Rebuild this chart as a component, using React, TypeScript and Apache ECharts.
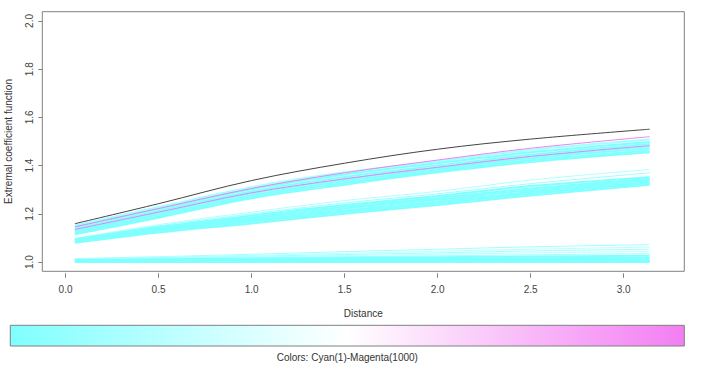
import React, { useEffect, useRef } from "react";
import * as echarts from "echarts";

const distance = [0.05, 0.5, 1.0, 1.5, 2.0, 2.5, 3.14];
const xTicks = [0, 0.5, 1.0, 1.5, 2.0, 2.5, 3.0];
const yTicks = [1.0, 1.2, 1.4, 1.6, 1.8, 2.0];

const blackLine = [1.159, 1.242, 1.338, 1.41, 1.468, 1.51, 1.551];
const magentaLines = [
  [1.146, 1.222, 1.305, 1.37, 1.423, 1.472, 1.52],
  [1.135, 1.207, 1.287, 1.345, 1.393, 1.438, 1.483],
];
const cyanTopBand = [
  [1.152, 1.228, 1.31, 1.372, 1.418, 1.465, 1.508],
  [1.145, 1.22, 1.302, 1.363, 1.41, 1.455, 1.498],
  [1.138, 1.212, 1.293, 1.353, 1.4, 1.445, 1.49],
  [1.132, 1.204, 1.285, 1.344, 1.392, 1.437, 1.48],
  [1.126, 1.197, 1.277, 1.336, 1.385, 1.43, 1.472],
  [1.12, 1.19, 1.27, 1.328, 1.378, 1.422, 1.463],
  [1.115, 1.184, 1.264, 1.321, 1.372, 1.415, 1.455],
];
const cyanMidThin = [
  [1.098, 1.155, 1.207, 1.255, 1.293, 1.34, 1.384],
  [1.095, 1.15, 1.2, 1.245, 1.283, 1.325, 1.37],
];
const cyanMidBand = [
  [1.094, 1.145, 1.193, 1.237, 1.274, 1.315, 1.352],
  [1.091, 1.14, 1.186, 1.229, 1.266, 1.305, 1.345],
  [1.088, 1.135, 1.18, 1.222, 1.259, 1.298, 1.339],
  [1.085, 1.13, 1.173, 1.214, 1.251, 1.29, 1.333],
  [1.083, 1.126, 1.167, 1.207, 1.244, 1.283, 1.327],
  [1.08, 1.122, 1.16, 1.2, 1.237, 1.276, 1.321],
];
const cyanLowBand = [
  [1.014, 1.022, 1.032, 1.043, 1.053, 1.063, 1.072],
  [1.013, 1.02, 1.028, 1.036, 1.045, 1.053, 1.062],
  [1.012, 1.018, 1.024, 1.031, 1.038, 1.046, 1.053],
  [1.011, 1.016, 1.021, 1.027, 1.032, 1.038, 1.044],
  [1.01, 1.014, 1.018, 1.022, 1.026, 1.03, 1.035],
  [1.008, 1.011, 1.014, 1.017, 1.02, 1.023, 1.026],
  [1.006, 1.008, 1.01, 1.012, 1.014, 1.016, 1.018],
  [1.004, 1.005, 1.006, 1.007, 1.008, 1.009, 1.01],
  [1.002, 1.002, 1.003, 1.003, 1.004, 1.004, 1.005],
  [1.0, 1.0, 1.0, 1.0, 1.0, 1.0, 1.0],
];

const FONT = "'Liberation Sans', Arial, sans-serif";

function mk(vals: number[], color: string, width: number, z: number) {
  return {
    type: "line",
    data: distance.map((d, i) => [d, vals[i]]),
    smooth: 0.35,
    showSymbol: false,
    symbol: "none",
    lineStyle: { color, width },
    z,
    silent: true,
  };
}

export default function App() {
  const ref = useRef<HTMLDivElement>(null);
  useEffect(() => {
    if (!ref.current) return;
    const chart = echarts.init(ref.current, undefined, { renderer: "svg" });
    const series: any[] = [];
    cyanLowBand.forEach((v, i) =>
      series.push(mk(v, i < 5 ? (i % 2 ? "#b8ffff" : "#a0ffff") : "#80ffff", i < 5 ? 1 : 2, 2))
    );
    cyanMidThin.forEach((v, i) => series.push(mk(v, i === 0 ? "#b0ffff" : "#9cffff", 1, 2)));
    cyanMidBand.forEach((v) => series.push(mk(v, "#80ffff", 2, 2)));
    cyanTopBand.forEach((v, i) => series.push(mk(v, i === 0 ? "#a0ffff" : "#80ffff", 2, 2)));
    magentaLines.forEach((v) => series.push(mk(v, "#f080f0", 1, 3)));
    series.push(mk(blackLine, "#444444", 1, 4));

    chart.setOption({
      animation: false,
      backgroundColor: "#ffffff",
      grid: {
        left: 42.3,
        right: 706 - 684.3,
        top: 11.7,
        bottom: 378 - 271.3,
        containLabel: false,
        outerBoundsMode: "none",
        show: true,
        borderColor: "#808080",
        borderWidth: 1,
        backgroundColor: "transparent",
      },
      xAxis: {
        type: "value",
        min: -0.125,
        max: 3.326,
        offset: 2,
        name: "Distance",
        nameLocation: "middle",
        nameGap: 35,
        nameTextStyle: { fontFamily: FONT, fontSize: 10, color: "#333" },
        axisLine: { show: false, onZero: false },
        axisTick: { show: true, length: 4.5, lineStyle: { color: "#808080" }, customValues: xTicks },
        axisLabel: {
          fontFamily: FONT,
          fontSize: 10,
          color: "#444",
          margin: 11,
          customValues: xTicks,
          formatter: (v: number) => v.toFixed(1),
        },
        splitLine: { show: false },
      },
      yAxis: {
        type: "value",
        min: 0.9615,
        max: 2.0385,
        name: "Extremal coefficient function",
        nameLocation: "middle",
        nameGap: 29,
        nameTextStyle: { fontFamily: FONT, fontSize: 10, color: "#333" },
        axisLine: { show: false, onZero: false },
        axisTick: { show: true, length: 4, lineStyle: { color: "#808080" }, customValues: yTicks },
        axisLabel: {
          fontFamily: FONT,
          fontSize: 10,
          color: "#444",
          rotate: 90,
          margin: 8,
          customValues: yTicks,
          formatter: (v: number) => v.toFixed(1),
        },
        splitLine: { show: false },
      },
      series,
      graphic: [
        {
          type: "rect",
          shape: { x: 10.3, y: 325.3, width: 674, height: 20.7 },
          style: {
            fill: {
              type: "linear",
              x: 0,
              y: 0,
              x2: 1,
              y2: 0,
              colorStops: [
                { offset: 0, color: "#80ffff" },
                { offset: 0.5, color: "#ffffff" },
                { offset: 1, color: "#f37ef3" },
              ],
            },
            stroke: "#808080",
            lineWidth: 1,
          },
        },
        {
          type: "text",
          x: 347.3,
          y: 357,
          style: {
            text: "Colors: Cyan(1)-Magenta(1000)",
            fontFamily: FONT,
            fontSize: 10,
            fill: "#333",
            align: "center",
            verticalAlign: "middle",
          },
        },
      ],
    });
    return () => chart.dispose();
  }, []);
  return (
    <div
      ref={ref}
      style={{ position: "fixed", left: 0, top: 0, width: 706, height: 378, background: "#fff" }}
    />
  );
}
